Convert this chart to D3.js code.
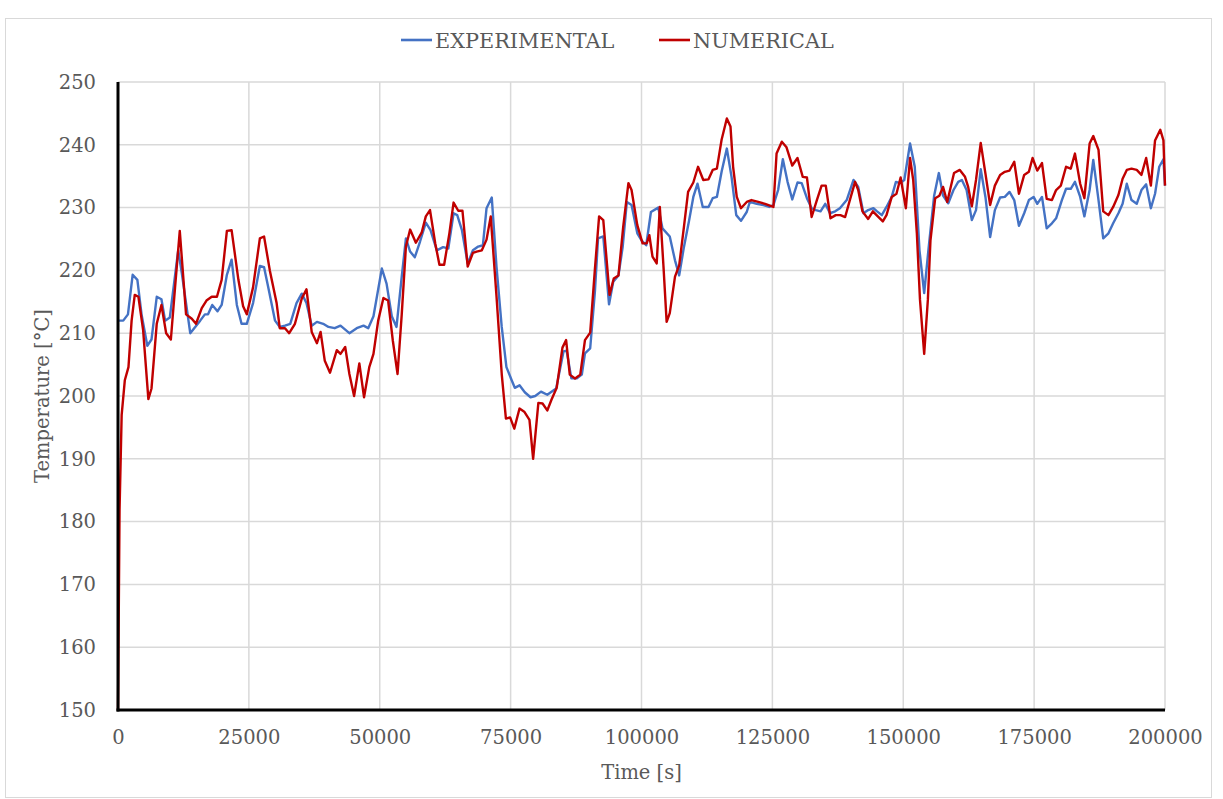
<!DOCTYPE html>
<html>
<head>
<meta charset="utf-8">
<script src="https://cdn.jsdelivr.net/npm/d3@7"></script>
<style>
  html, body { margin: 0; padding: 0; background: #fff; }
  svg { display: block; }
  text { font-family: "DejaVu Serif", serif; fill: #595959; }
</style>
</head>
<body>
<svg id="chart" width="1223" height="799"></svg>
<script>
// Measured temperature, time [s] and value [°C]
const expTime = [0,1000,1900,2800,3700,4500,5600,6400,7400,8300,9000,9900,11500,12200,13800,15700,16600,17200,18000,19000,19800,20800,21700,22700,23600,24600,25800,27100,27900,28700,30000,30900,31900,32900,34100,35100,36000,37000,38000,39200,40200,41400,42500,44200,45600,46900,47800,48800,50400,51300,52300,53200,54200,55000,55800,56700,57700,58800,59700,60900,62100,63100,64100,64800,65700,66800,67800,68800,69700,70400,71400,72300,73300,74200,75200,75800,76700,77700,78800,79700,80800,82000,83700,85100,85700,86600,87600,88600,89200,90200,91100,91700,92700,93800,94600,95600,96400,97200,98100,99200,100000,100900,101800,103200,104000,105400,106400,107200,108100,109100,109900,110700,111700,112800,113600,114400,115300,116300,117200,118100,119000,120100,120700,122000,123300,124400,125200,126100,127000,127900,128800,129800,130600,131600,132500,133300,134200,135100,136000,137000,137900,139200,140500,141400,142400,143300,144300,145000,145900,146800,147800,148600,149400,150200,151300,152200,153100,154000,154800,155900,156800,157600,158600,159600,160500,161200,162100,163100,163900,164800,165700,166600,167500,168500,169400,170300,171200,172100,173100,174000,174900,175600,176500,177400,178400,179200,180300,181100,182000,182800,183800,184600,185600,186300,187300,188200,189200,190100,191100,191900,192700,193600,194600,195500,196400,197300,198100,198900,199700,200000];
const expTemp = [212.0,212.0,213.0,219.3,218.5,213.0,208.0,209.0,215.8,215.4,212.0,212.5,223.2,219.5,210.0,212.0,213.0,213.0,214.5,213.5,214.5,219.3,221.7,214.5,211.5,211.5,214.8,220.7,220.5,217.3,212.0,211.0,211.2,211.5,214.8,216.3,214.8,211.2,211.8,211.5,211.0,210.8,211.2,210.0,210.8,211.2,210.8,212.7,220.3,217.9,212.7,211.0,219.0,225.1,223.0,222.1,224.6,227.6,226.4,223.2,223.7,223.5,229.1,228.8,226.4,221.1,223.2,223.8,224.0,229.9,231.6,220.6,211.0,204.6,202.5,201.3,201.7,200.6,199.8,200.0,200.7,200.2,201.2,207.1,207.2,202.8,202.8,203.4,206.8,207.6,216.6,225.1,225.4,214.6,218.2,219.2,223.7,230.9,230.4,225.9,224.8,224.0,229.3,230.0,226.7,225.4,221.6,219.2,223.7,228.0,231.7,233.8,230.1,230.1,231.5,231.7,235.7,239.4,234.9,228.8,227.9,229.3,230.9,230.6,230.4,230.1,230.4,232.8,237.7,234.1,231.3,234.0,233.9,231.5,229.9,229.6,229.4,230.6,229.1,229.4,229.9,231.2,234.4,233.3,229.1,229.6,229.9,229.4,228.8,230.1,231.7,234.1,233.9,234.4,240.2,236.5,223.2,216.4,223.2,231.9,235.5,231.9,230.7,232.8,234.1,234.4,232.8,228.0,229.6,236.1,231.7,225.3,229.6,231.6,231.7,232.5,231.2,227.1,229.1,231.2,231.7,230.6,231.7,226.7,227.5,228.3,231.2,233.0,233.0,234.1,231.7,228.6,232.8,237.6,231.2,225.1,225.9,227.5,229.1,230.6,233.8,231.2,230.6,232.8,233.7,229.9,232.2,236.5,237.7,233.5];

// Simulated temperature, time [s] and value [°C]
const numTime = [0,300,700,1300,2000,2600,3200,3900,4800,5800,6400,7400,8300,9200,10100,10900,11800,13000,14100,14900,16000,16900,17900,18900,19800,20800,21700,23000,23900,24600,25800,27100,27900,29000,30300,30900,31900,32700,33800,35100,36000,37000,38000,38700,39500,40500,41800,42500,43400,44200,45100,46100,47000,48000,48800,49700,50700,51600,52500,53400,54200,55000,55800,56900,58000,58800,59600,60600,61400,62300,63300,64100,65000,65800,66800,67800,68500,69500,70400,71200,72300,73300,74100,74900,75700,76700,77600,78600,79300,80300,81100,82000,82800,83800,84900,85600,86300,87300,88300,89200,90200,91100,91900,92700,93900,94700,95600,96500,97500,98100,99200,100200,101000,101500,102100,102900,103500,104200,104800,105400,106400,107200,108100,108900,109900,110800,111800,112800,113600,114400,115300,116300,117000,117500,118200,119000,120100,121000,122300,123600,125200,125800,126800,127700,128800,129800,130800,131600,132500,133500,134400,135200,136100,137100,138000,138900,139800,140800,141400,142200,143300,144200,144900,146100,146800,147800,148700,149500,150500,151300,151900,152600,153200,154000,154700,155200,156100,156900,157600,158400,159700,160800,161800,162400,163100,163900,164800,165700,166600,167500,168500,169400,170300,171200,172100,173100,174000,174700,175600,176500,177400,178400,179200,180100,181100,182000,182800,183800,184600,185600,186300,187300,188200,189200,190100,191100,191900,192700,193600,194600,195500,196400,197300,198100,199100,199700,200000];
const numTemp = [150.0,182.0,197.0,202.5,204.6,212.0,216.1,215.8,210.5,199.5,201.2,211.5,214.5,210.0,209.0,217.3,226.3,213.0,212.3,211.5,214.0,215.2,215.8,215.8,218.5,226.3,226.4,218.5,214.3,213.0,217.3,225.1,225.4,220.0,214.8,210.8,210.8,210.0,211.5,215.5,217.0,210.2,208.4,210.2,205.6,203.7,207.3,206.7,207.8,203.5,200.0,205.2,199.8,204.6,206.7,212.0,215.6,215.2,208.8,203.5,213.0,223.8,226.5,224.4,226.0,228.6,229.6,224.3,220.9,220.9,225.9,230.8,229.5,229.5,220.6,222.8,223.0,223.2,224.9,228.6,215.9,203.5,196.4,196.6,194.8,198.0,197.5,196.2,190.0,198.9,198.8,197.7,199.4,201.3,207.7,208.9,203.4,202.8,203.4,208.9,210.1,220.2,228.6,228.0,216.1,218.7,219.2,226.9,233.9,232.8,227.2,224.3,224.3,225.6,222.2,221.1,230.1,220.6,211.8,213.2,219.0,220.8,226.9,232.5,234.0,236.5,234.4,234.5,236.0,236.2,240.8,244.2,242.9,236.5,231.7,229.9,230.9,231.2,230.9,230.6,230.1,238.6,240.5,239.6,236.7,237.9,234.9,234.8,228.5,231.2,233.5,233.5,228.3,228.8,228.8,228.5,231.2,234.1,232.8,229.4,228.2,229.4,228.8,227.8,228.8,231.7,232.2,234.8,229.9,237.9,234.4,225.9,215.3,206.7,215.3,224.8,231.5,231.9,233.3,230.9,235.5,236.0,234.9,233.3,230.2,234.4,240.3,235.4,230.4,233.5,235.2,235.7,235.9,237.3,232.2,235.2,235.7,237.9,235.9,237.1,231.4,231.2,232.8,233.5,236.5,236.2,238.6,233.8,231.5,240.2,241.4,239.2,229.4,228.8,230.1,232.0,234.6,236.0,236.2,236.0,235.2,237.9,233.5,240.7,242.4,240.7,233.5];

const xTicks = [0, 25000, 50000, 75000, 100000, 125000, 150000, 175000, 200000];
const yTicks = [150, 160, 170, 180, 190, 200, 210, 220, 230, 240, 250];
const seriesNames = ["EXPERIMENTAL", "NUMERICAL"];
const seriesColors = ["#4472c4", "#c00000"];

const svg = d3.select("#chart");
const W = 1223, H = 799;

// outer chart frame
svg.append("rect")
  .attr("x", 5.5).attr("y", 18.5)
  .attr("width", W - 17).attr("height", H - 20)
  .attr("fill", "#fff").attr("stroke", "#d9d9d9").attr("stroke-width", 1);

const plot = { left: 118, right: 1165, top: 82, bottom: 710 };

const x = d3.scaleLinear().domain([0, 200000]).range([plot.left, plot.right]);
const y = d3.scaleLinear().domain([150, 250]).range([plot.bottom, plot.top]);

// gridlines
const grid = svg.append("g");
grid.selectAll("line.h").data(yTicks).join("line").attr("class", "h")
  .attr("x1", plot.left).attr("x2", plot.right)
  .attr("y1", d => y(d)).attr("y2", d => y(d))
  .attr("stroke", "#d9d9d9").attr("stroke-width", 1.5);
grid.selectAll("line.v").data(xTicks).join("line").attr("class", "v")
  .attr("x1", d => x(d)).attr("x2", d => x(d))
  .attr("y1", plot.top).attr("y2", plot.bottom)
  .attr("stroke", "#d9d9d9").attr("stroke-width", 1.5);

// axes with tick labels
const yAxis = svg.append("g")
  .attr("transform", `translate(${plot.left},0)`)
  .call(d3.axisLeft(y).tickValues(yTicks).tickSize(0).tickPadding(22).tickFormat(d3.format("d")));
const xAxis = svg.append("g")
  .attr("transform", `translate(0,${plot.bottom})`)
  .call(d3.axisBottom(x).tickValues(xTicks).tickSize(0).tickPadding(20).tickFormat(d3.format("d")));
[yAxis, xAxis].forEach(g => {
  g.select(".domain").remove();
  g.selectAll("text")
    .style("font-family", "'DejaVu Serif', serif")
    .style("font-size", "19.5px")
    .attr("fill", "#595959");
});

// series lines
const line = d3.line().x(d => x(d[0])).y(d => y(d[1]));
const expData = d3.zip(expTime, expTemp);
const numData = d3.zip(numTime, numTemp);
svg.append("path").datum(expData)
  .attr("d", line).attr("fill", "none")
  .attr("stroke", seriesColors[0]).attr("stroke-width", 2.4)
  .attr("stroke-linejoin", "round");
svg.append("path").datum(numData)
  .attr("d", line).attr("fill", "none")
  .attr("stroke", seriesColors[1]).attr("stroke-width", 2.4)
  .attr("stroke-linejoin", "round");

// black axis lines
svg.append("line").attr("x1", plot.left).attr("x2", plot.left).attr("y1", plot.top).attr("y2", plot.bottom + 1.5)
  .attr("stroke", "#000").attr("stroke-width", 3);
svg.append("line").attr("x1", plot.left - 1.5).attr("x2", plot.right).attr("y1", plot.bottom).attr("y2", plot.bottom)
  .attr("stroke", "#000").attr("stroke-width", 3);

// axis titles
svg.append("text")
  .attr("x", x(100000)).attr("y", 779)
  .attr("text-anchor", "middle")
  .style("font-size", "19.5px")
  .text("Time [s]");
svg.append("text")
  .attr("transform", `translate(49,${y(200)}) rotate(-90)`)
  .attr("text-anchor", "middle")
  .style("font-size", "19.5px")
  .text("Temperature [°C]");

// legend
const legend = svg.append("g");
const legendX = [401, 659];
seriesNames.forEach((name, i) => {
  const g = legend.append("g").attr("transform", `translate(${legendX[i]},40)`);
  g.append("line").attr("x1", 0).attr("x2", 31).attr("y1", 0).attr("y2", 0)
    .attr("stroke", seriesColors[i]).attr("stroke-width", 2.6);
  g.append("text").attr("x", 34).attr("y", 7.5)
    .style("font-size", "20.8px")
    .text(name);
});
</script>
</body>
</html>
